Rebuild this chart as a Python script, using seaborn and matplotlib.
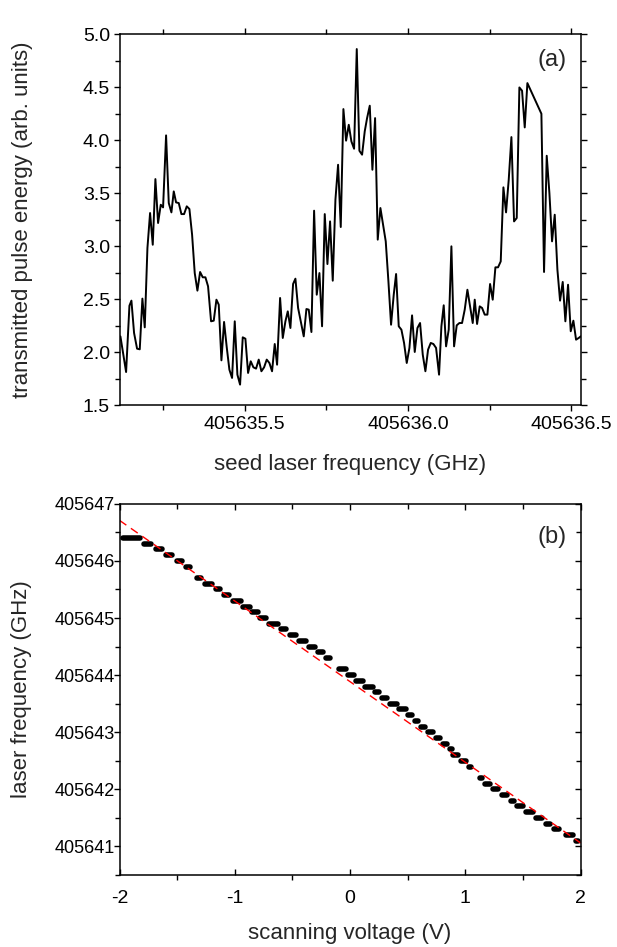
import numpy as np
import pandas as pd
import matplotlib
matplotlib.use('Agg')
import matplotlib.pyplot as plt
import matplotlib.ticker as ticker
import seaborn as sns

sns.set_theme(style = 'ticks')
plt.rcParams['font.family'] = ['Liberation Sans', 'DejaVu Sans']


# panel (a): transmitted pulse energy vs seed laser frequency (GHz)
seed_freq = [
    405635.1193, 405635.1367, 405635.1469, 405635.1530, 405635.1611, 405635.1703, 405635.1785, 405635.1866,
    405635.1938, 405635.2020, 405635.2101, 405635.2183, 405635.2264, 405635.2346, 405635.2428, 405635.2499,
    405635.2591, 405635.2673, 405635.2754, 405635.2826, 405635.2897, 405635.2979, 405635.3060, 405635.3142,
    405635.3224, 405635.3305, 405635.3387, 405635.3468, 405635.3550, 405635.3632, 405635.3713, 405635.3795,
    405635.3876, 405635.3968, 405635.4050, 405635.4132, 405635.4203, 405635.4285, 405635.4366, 405635.4448,
    405635.4529, 405635.4611, 405635.4693, 405635.4774, 405635.4856, 405635.4938, 405635.5019, 405635.5101,
    405635.5182, 405635.5264, 405635.5346, 405635.5427, 405635.5509, 405635.5591, 405635.5672, 405635.5754,
    405635.5835, 405635.5917, 405635.5989, 405635.6081, 405635.6163, 405635.6244, 405635.6316, 405635.6397,
    405635.6479, 405635.6550, 405635.6632, 405635.6713, 405635.6805, 405635.6887, 405635.6958, 405635.7040,
    405635.7122, 405635.7203, 405635.7285, 405635.7366, 405635.7448, 405635.7530, 405635.7611, 405635.7693,
    405635.7775, 405635.7856, 405635.7938, 405635.8019, 405635.8101, 405635.8183, 405635.8264, 405635.8346,
    405635.8428, 405635.8509, 405635.8591, 405635.8672, 405635.8744, 405635.8826, 405635.8907, 405635.8989,
    405635.9070, 405635.9152, 405635.9234, 405635.9315, 405635.9397, 405635.9478, 405635.9560, 405635.9632,
    405635.9713, 405635.9795, 405635.9876, 405635.9958, 405636.0040, 405636.0121, 405636.0203, 405636.0285,
    405636.0366, 405636.0448, 405636.0529, 405636.0611, 405636.0693, 405636.0774, 405636.0856, 405636.0947,
    405636.1019, 405636.1090, 405636.1162, 405636.1243, 405636.1325, 405636.1407, 405636.1488, 405636.1570,
    405636.1651, 405636.1733, 405636.1815, 405636.1896, 405636.1978, 405636.2039, 405636.2111, 405636.2192,
    405636.2264, 405636.2345, 405636.2427, 405636.2509, 405636.2590, 405636.2672, 405636.2753, 405636.2835,
    405636.2917, 405636.2998, 405636.3080, 405636.3162, 405636.3243, 405636.3325, 405636.3406, 405636.3488,
    405636.3570, 405636.3651, 405636.4080, 405636.4161, 405636.4243, 405636.4325, 405636.4406, 405636.4488,
    405636.4570, 405636.4651, 405636.4733, 405636.4814, 405636.4896, 405636.4978, 405636.5059, 405636.5141,
    405636.5223, 405636.5284,
]
pulse_energy = [
    2.150, 1.814, 2.439, 2.487, 2.182, 2.034, 2.028, 2.506,
    2.235, 2.983, 3.313, 3.014, 3.633, 3.219, 3.391, 3.366,
    4.045, 3.407, 3.319, 3.517, 3.413, 3.407, 3.303, 3.303,
    3.376, 3.351, 3.109, 2.747, 2.581, 2.757, 2.707, 2.707,
    2.622, 2.292, 2.298, 2.496, 2.449, 1.924, 2.286, 2.047,
    1.836, 1.758, 2.292, 1.789, 1.695, 2.141, 2.128, 1.805,
    1.915, 1.858, 1.846, 1.931, 1.821, 1.858, 1.931, 1.899,
    1.821, 2.078, 1.883, 2.512, 2.135, 2.292, 2.386, 2.229,
    2.644, 2.694, 2.418, 2.292, 2.150, 2.408, 2.402, 2.191,
    3.335, 2.543, 2.747, 2.245, 3.303, 2.832, 3.234, 2.675,
    3.439, 3.768, 3.181, 4.293, 3.995, 4.145, 3.988, 3.919,
    4.859, 3.900, 3.863, 4.083, 4.208, 4.325, 3.721, 4.208,
    3.062, 3.360, 3.203, 3.046, 2.669, 2.260, 2.543, 2.738,
    2.245, 2.213, 2.088, 1.899, 2.041, 2.348, 2.003, 2.229,
    2.276, 1.978, 1.821, 2.025, 2.088, 2.078, 2.041, 1.789,
    2.245, 2.443, 2.056, 2.213, 2.999, 2.056, 2.254, 2.276,
    2.276, 2.402, 2.590, 2.433, 2.276, 2.496, 2.267, 2.433,
    2.418, 2.355, 2.355, 2.644, 2.496, 2.801, 2.801, 2.857,
    3.555, 3.319, 3.627, 4.029, 3.234, 3.266, 4.497, 4.466,
    4.120, 4.538, 4.249, 2.757, 3.853, 3.501, 3.046, 3.297,
    2.779, 2.487, 2.663, 2.292, 2.637, 2.198, 2.298, 2.119,
    2.135, 2.150,
]

# panel (b): laser frequency steps (GHz) vs scanning voltage (V)
step_freq = [
    405646.4, 405646.3, 405646.2, 405646.1, 405646.0, 405645.9, 405645.8, 405645.7,
    405645.6, 405645.5, 405645.4, 405645.3, 405645.2, 405645.1, 405645.0, 405644.9,
    405644.8, 405644.7, 405644.6, 405644.5, 405644.4, 405644.3, 405644.2, 405644.1,
    405644.0, 405643.9, 405643.8, 405643.7, 405643.6, 405643.5, 405643.4, 405643.3,
    405643.2, 405643.1, 405643.0, 405642.9, 405642.8, 405642.7, 405642.6, 405642.5,
    405642.4, 405642.3, 405642.2, 405642.1, 405642.0, 405641.9, 405641.8, 405641.7,
    405641.6, 405641.5, 405641.4, 405641.3, 405641.2, 405641.1,
]
step_v_start = [
    -1.993, -1.805, -1.700, -1.617, -1.525, -1.443, -1.366, -1.351,
    -1.276, -1.183, -1.111, -1.036, -0.949, -0.868, -0.799, -0.727,
    -0.620, -0.545, -0.467, -0.376, -0.296, -0.226, -0.140, -0.114,
    -0.040, 0.034, 0.112, 0.196, 0.253, 0.323, 0.401, 0.482,
    0.546, 0.595, 0.656, 0.728, 0.786, 0.843, 0.873, 0.939,
    1.011, 1.068, 1.103, 1.150, 1.219, 1.300, 1.372, 1.430,
    1.502, 1.595, 1.676, 1.748, 1.849, 1.942,
]
step_v_end = [
    -1.800, -1.703, -1.610, -1.521, -1.435, -1.371, -1.360, -1.270,
    -1.178, -1.111, -1.030, -0.929, -0.851, -0.779, -0.706, -0.602,
    -0.532, -0.446, -0.365, -0.284, -0.215, -0.154, -0.120, -0.018,
    0.054, 0.135, 0.216, 0.271, 0.337, 0.424, 0.502, 0.560,
    0.612, 0.670, 0.742, 0.803, 0.858, 0.901, 0.959, 1.023,
    1.068, 1.103, 1.161, 1.237, 1.306, 1.381, 1.439, 1.517,
    1.604, 1.682, 1.757, 1.835, 1.950, 2.000,
]

# linear fit drawn as red dashed line (end points)
fit_volt = [-2.0, 2.0]
fit_freq = [405646.71, 405641.06]


def style_axes(ax, top_right_dir):

    for s in ax.spines.values():
        s.set_linewidth(1.1)
        s.set_color('black')
        s.set_visible(True)

    ax.tick_params(which = 'both', direction = 'out', width = 1.0, colors = 'black',
                   top = True, right = True, labeltop = False, labelright = False)
    ax.tick_params(which = 'major', length = 4)
    ax.tick_params(which = 'minor', length = 3.5)
    if top_right_dir == 'in':
        ax.xaxis.set_tick_params(which = 'both', direction = 'in')
        ax.yaxis.set_tick_params(which = 'both', direction = 'in')
        # keep left / bottom ticks pointing out
        for t in ax.xaxis.get_major_ticks() + ax.xaxis.get_minor_ticks():
            t.tick1line.set_marker(matplotlib.lines.TICKDOWN)
        for t in ax.yaxis.get_major_ticks() + ax.yaxis.get_minor_ticks():
            t.tick1line.set_marker(matplotlib.lines.TICKLEFT)


def main() -> None:

    fig = plt.figure(figsize = (6.17, 9.47), dpi = 100)

    # ---- (a)
    ax1 = fig.add_axes([0.195, 0.572, 0.746, 0.392])
    df_a = pd.DataFrame({'freq': seed_freq, 'energy': pulse_energy})
    sns.lineplot(data = df_a, x = 'freq', y = 'energy', ax = ax1, color = 'black',
                 linewidth = 1.4, sort = False, estimator = None)

    ax1.set_xlim(405635.119, 405636.528)
    ax1.set_ylim(1.5, 5.0)
    ax1.xaxis.set_major_locator(ticker.MultipleLocator(0.5))
    ax1.xaxis.set_minor_locator(ticker.MultipleLocator(0.25))
    ax1.xaxis.set_major_formatter(ticker.FormatStrFormatter('%.1f'))
    ax1.yaxis.set_major_locator(ticker.MultipleLocator(0.5))
    ax1.yaxis.set_minor_locator(ticker.MultipleLocator(0.25))
    ax1.yaxis.set_major_formatter(ticker.FormatStrFormatter('%.1f'))
    style_axes(ax1, 'out')
    ax1.tick_params(labelsize = 14)

    ax1.set_xlabel('seed laser frequency (GHz)', fontsize = 16, labelpad = 15)
    ax1.set_ylabel('transmitted pulse energy (arb. units)', fontsize = 16)
    ax1.yaxis.set_label_coords(-0.19, 0.5)
    ax1.text(0.97, 0.93, '(a)', transform = ax1.transAxes, ha = 'right', va = 'center', fontsize = 17)

    # ---- (b)
    ax2 = fig.add_axes([0.1937, 0.076, 0.7475, 0.392])

    cap = 0.02
    rows = []
    for i, (f, v0, v1) in enumerate(zip(step_freq, step_v_start, step_v_end)):
        rows.append({'step': i, 'volt': v0 + cap, 'freq': f})
        rows.append({'step': i, 'volt': max(v1 - cap, v0 + cap), 'freq': f})
    df_b = pd.DataFrame(rows)

    sns.lineplot(data = df_b, x = 'volt', y = 'freq', units = 'step', estimator = None,
                 ax = ax2, color = 'black', linewidth = 4.0, solid_capstyle = 'round', sort = False)
    sns.lineplot(x = fit_volt, y = fit_freq, ax = ax2, color = 'red', linewidth = 1.0,
                 dashes = False, linestyle = (0, (6, 4)))

    ax2.set_xlim(-2, 2)
    ax2.set_ylim(405640.5, 405647)
    ax2.xaxis.set_major_locator(ticker.MultipleLocator(1))
    ax2.xaxis.set_minor_locator(ticker.MultipleLocator(0.5))
    ax2.xaxis.set_major_formatter(ticker.FormatStrFormatter('%d'))
    ax2.yaxis.set_major_locator(ticker.MultipleLocator(1))
    ax2.yaxis.set_minor_locator(ticker.MultipleLocator(0.5))
    ax2.yaxis.set_major_formatter(ticker.FormatStrFormatter('%d'))
    style_axes(ax2, 'in')
    ax2.tick_params(axis = 'x', labelsize = 14, pad = 11)
    ax2.tick_params(axis = 'y', labelsize = 13)

    ax2.set_xlabel('scanning voltage (V)', fontsize = 16, labelpad = 11)
    ax2.set_ylabel('laser frequency (GHz)', fontsize = 16)
    ax2.yaxis.set_label_coords(-0.19, 0.5)
    ax2.text(0.97, 0.91, '(b)', transform = ax2.transAxes, ha = 'right', va = 'center', fontsize = 17)

    fig.savefig('out.png', dpi = 100)


if __name__ == '__main__': main()
